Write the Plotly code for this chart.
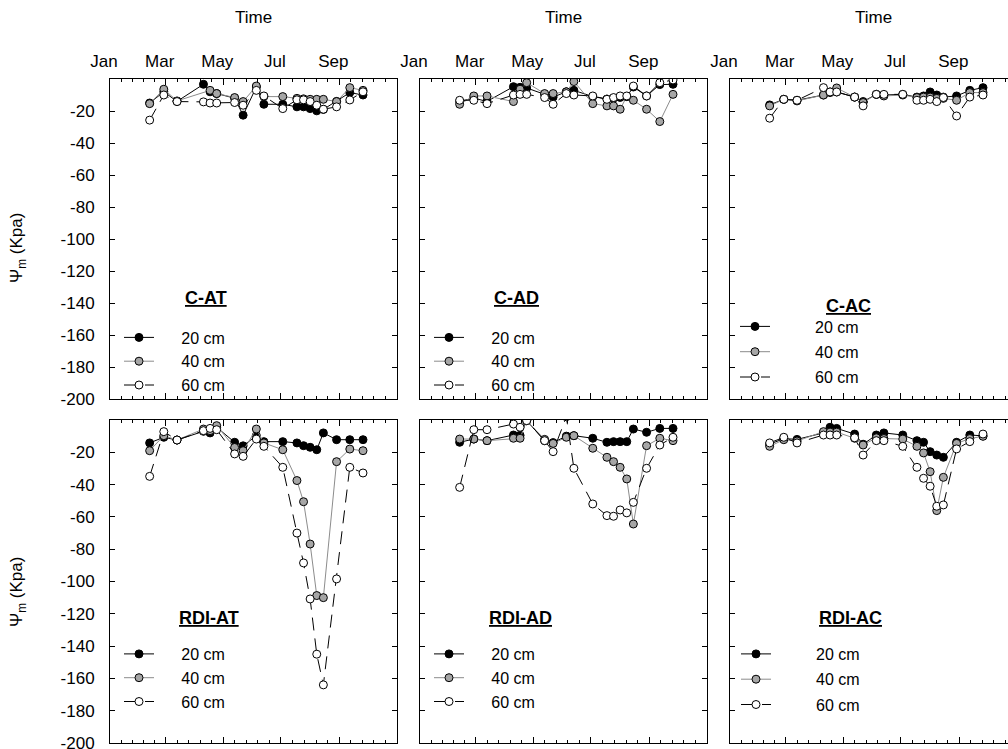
import numpy as np
import pandas as pd
import plotly.graph_objects as go

# ---------------- data ----------------
dates = ["2009-02-12", "2009-02-27", "2009-03-13", "2009-04-10", "2009-04-17",
         "2009-04-24", "2009-05-13", "2009-05-22", "2009-06-05", "2009-06-13",
         "2009-07-03", "2009-07-18", "2009-07-25", "2009-08-01", "2009-08-08",
         "2009-08-15", "2009-08-29", "2009-09-12", "2009-09-26"]

depth_labels = ["20 cm", "40 cm", "60 cm"]
panel_titles = ["C-AT", "C-AD", "C-AC", "RDI-AT", "RDI-AD", "RDI-AC"]

cat_20 = [-15, -8, -14, -3.3, -8, -9.1, -12, -22.6, -5, -15.8, -15.8, -17.4, -17.4, -18.5, -19.9, -19, -14, -8.5, -10]
cat_40 = [-15.4, -6.4, -13.7, None, -7.1, -9.1, -11.6, -14.1, -4.4, -11, -11, -12.1, -12.4, -12.7, -12.7, -12.7, -14.1, -5.4, -7.1]
cat_60 = [-25.7, -10, -14.1, -14.3, -15, -15, -14.7, -16.4, -7.1, -10.6, -18.5, -13, -13, -14.1, -16.4, -18.9, -17.4, -13.1, -8]

cad_20 = [-14, -12, -14, -4.8, -5.2, -5.6, -9.6, -11.3, -8, -7.1, -11, -12.5, -12, -11.5, -11, -5, -10.6, -3.5, -3.3]
cad_40 = [-15.8, -10.6, -10.6, -14.1, -6.4, -2.3, -9.1, -9.1, -8, -1.6, -15.4, -16.8, -16.8, -18.9, -11, -13.3, -18.9, -26.6, -9.6]
cad_60 = [-13.3, -13.3, -15.4, -10, -9.6, -9.6, -11.6, -15.8, -9.1, -10, -10.6, -12.7, -11.6, -10.6, -10.6, -4.4, -10.6, -2.3, -0.6]

cac_20 = [-16.2, -12.7, -13.3, -10, -8.1, -8.1, -11.3, -14.1, -9.6, -10, -9.6, -11.3, -10.6, -8.1, -10, -11.3, -10.6, -7.1, -5.4]
cac_40 = [-16.8, -12.7, -13.7, -10, -8.5, -5.6, -11.3, -14.7, -9.6, -10.6, -10, -11.6, -11.3, -11.3, -12.1, -12.1, -13.3, -8.5, -8.5]
cac_60 = [-24.5, -12.7, -13.3, -5.4, -8.1, -8.1, -11.3, -16.8, -9.6, -9.6, -9.6, -13.3, -13.3, -12.7, -14.1, -11.6, -23.1, -11.3, -10]

rat_20 = [-14.2, -10.7, -12.4, -7, -8, -4.5, -13.8, -16, -9.7, -13.4, -13.4, -14.2, -15.9, -16.9, -18.4, -8, -12.2, -12.2, -12.2]
rat_40 = [-19, -9.7, -12.4, -5.6, -6.6, -3.5, -17, -19, -5.6, -14.2, -18.4, -37.5, -50.6, -76.8, -108.7, -110, -25.8, -18, -19]
rat_60 = [-34.9, -7.2, -12.4, -6.6, -5.2, -6, -21, -22.5, -11.8, -16.3, -29.3, -70, -88.5, -110.8, -145, -164, -98.4, -29.3, -32.8]

rad_20 = [-13.8, -11.8, -12.8, -9.3, -9.5, -0.4, -12.8, -14, -10, -9.7, -11.3, -13.8, -13.4, -13.4, -13.4, -5.6, -7.6, -5.2, -5.2]
rad_40 = [-11.8, -11.8, -12.8, -11.3, -11.3, -0.4, -12, -14.5, -10.7, -9.7, -17.5, -23.1, -25.8, -29.3, -36.5, -64.4, -15.9, -11.3, -12.8]
rad_60 = [-41.7, -6.0, -6.0, -2.5, -4.5, -0.4, -12.8, -19.6, 2, -29.9, -52, -59.2, -59.6, -55.7, -57.5, -51, -29.9, -15.5, -10.7]

rac_20 = [-15, -11.5, -12, -8, -4.5, -5.2, -8.7, -15, -9.3, -8.0, -9.3, -12.8, -13.8, -19.6, -21.7, -23.1, -13.8, -9.3, -9.8]
rac_40 = [-16.3, -12.2, -13, -7.2, -7.5, -7.5, -11.3, -15.5, -11, -11.5, -11.8, -16.3, -20.4, -32, -56.1, -35.5, -14.5, -11.5, -10.1]
rac_60 = [-14.2, -10.7, -14.2, -9.3, -9.3, -9.3, -11, -21.7, -12.8, -12.8, -16.3, -29.3, -36.1, -41, -53.4, -52.6, -17.9, -13.4, -8.7]

month_ticks = ["2009-01-01", "2009-03-01", "2009-05-01", "2009-07-01", "2009-09-01"]
month_labels = ["Jan", "Mar", "May", "Jul", "Sep"]
axis_start, axis_end = "2009-01-01", "2009-11-01"
y_ticks = [-20, -40, -60, -80, -100, -120, -140, -160, -180, -200]
y_tick_labels = ["-20", "-40", "-60", "-80", "-100", "-120", "-140", "-160", "-180", "-200"]

panels = [
    (cat_20, cat_40, cat_60),
    (cad_20, cad_40, cad_60),
    (cac_20, cac_40, cac_60),
    (rat_20, rat_40, rat_60),
    (rad_20, rad_40, rad_60),
    (rac_20, rac_40, rac_60),
]

# ---------------- layout geometry (pixels) ----------------
W, H = 1008, 749
FONT = "Liberation Sans, Arial, sans-serif"
col_left = [110, 420, 730]
panel_w = 287
row_top = [79, 420]
row_bot = [399, 743]

# minor ticks: 4 evenly spaced between consecutive majors
majors = pd.to_datetime(month_ticks + [axis_end])
minor_ticks = []
for a, b in zip(majors[:-1], majors[1:]):
    for k in range(1, 5):
        minor_ticks.append(a + (b - a) * k / 5)
minor_ticks = [t.strftime("%Y-%m-%d %H:%M") for t in minor_ticks]

series_style = [
    dict(fill="black", line=dict(color="black", width=1)),
    dict(fill="#a6a6a6", line=dict(color="#8c8c8c", width=1)),
    dict(fill="white", line=dict(color="black", width=1, dash="13px,8px")),
]

fig = go.Figure()
layout = {}
start = pd.Timestamp(axis_start)
end = pd.Timestamp(axis_end)

# legend boxes (left, top) in px, spacing between text and sample line, row gap
legend_pos = [(119, 320.5), (429, 320.5), (735, 309.5), (119, 637), (429, 637), (736, 637)]
legend_pad = [5, 5, 9, 5, 5, 9]
legend_gap = [0, 0, 1.5, 0, 0, 1.5]
title_pos = [(206, 298), (516, 298), (848, 306), (209, 618), (520, 618), (850, 618)]

for i, vals in enumerate(panels):
    r, c = divmod(i, 3)
    n = i + 1
    xa = "x" if n == 1 else f"x{n}"
    ya = "y" if n == 1 else f"y{n}"
    lg = "legend" if n == 1 else f"legend{n}"
    x0 = col_left[c]
    x1 = min(x0 + panel_w, W)
    frac = (x1 - x0) / panel_w
    rng_end = start + (end - start) * frac
    for j, v in enumerate(vals):
        st = series_style[j]
        fig.add_trace(go.Scatter(
            x=dates, y=v, mode="lines+markers",
            name="\u00a0" * legend_pad[i] + depth_labels[j],
            legendgroup=f"p{n}s{j}",
            xaxis=xa, yaxis=ya, legend=lg, connectgaps=True,
            line=st["line"],
            marker=dict(size=8, color=st["fill"], line=dict(color="black", width=1)),
            showlegend=True, cliponaxis=True,
        ))
    layout["xaxis" if n == 1 else f"xaxis{n}"] = dict(
        type="date", domain=[x0 / W, x1 / W], anchor=ya, automargin=False,
        range=[axis_start, rng_end.strftime("%Y-%m-%d %H:%M")],
        tickmode="array", tickvals=month_ticks, ticktext=month_labels,
        ticks="inside", ticklen=6, tickcolor="black", tickwidth=1,
        minor=dict(tickmode="array", tickvals=minor_ticks, ticks="inside", ticklen=3,
                   tickcolor="black", showgrid=False),
        showline=True, linecolor="black", linewidth=1, mirror="allticks",
        side="top", showgrid=False, zeroline=False,
        showticklabels=(r == 0), ticklabelshift=-6, ticklabelstandoff=4,
        ticklabeloverflow="allow",
        tickfont=dict(size=17, color="black", family=FONT),
    )
    layout["yaxis" if n == 1 else f"yaxis{n}"] = dict(
        domain=[1 - row_bot[r] / H, 1 - row_top[r] / H], anchor=xa, automargin=False,
        range=[-200, 0], tickmode="array", tickvals=y_ticks, ticktext=y_tick_labels,
        ticks="inside", ticklen=5, tickcolor="black",
        showline=True, linecolor="black", linewidth=1,
        mirror="allticks" if c < 2 else False,
        showgrid=False, zeroline=False,
        showticklabels=(c == 0), ticklabelstandoff=11,
        ticklabeloverflow="allow",
        tickfont=dict(size=17, color="black", family=FONT),
    )
    lx, ly = legend_pos[i]
    layout[lg] = dict(
        x=lx / W, y=1 - ly / H, xanchor="left", yanchor="top",
        bgcolor="rgba(0,0,0,0)", borderwidth=0, itemwidth=30,
        font=dict(size=16, color="black", family=FONT),
        tracegroupgap=legend_gap[i], itemclick=False, itemdoubleclick=False,
    )

annotations = []
for c in range(3):
    annotations.append(dict(
        text="Time", x=(col_left[c] + panel_w / 2) / W, y=1 - 17 / H,
        xref="paper", yref="paper", showarrow=False,
        font=dict(size=17, color="black", family=FONT),
        xanchor="center", yanchor="middle"))
for r, yc in enumerate([248, 592]):
    annotations.append(dict(
        text="Ψ<sub>m</sub> (Kpa)", x=18 / W, y=1 - yc / H,
        xref="paper", yref="paper", showarrow=False, textangle=-90,
        font=dict(size=17, color="black", family=FONT),
        xanchor="center", yanchor="middle"))
for i, t in enumerate(panel_titles):
    tx, ty = title_pos[i]
    annotations.append(dict(
        text=f"<b><u>{t}</u></b>", x=tx / W, y=1 - ty / H,
        xref="paper", yref="paper", showarrow=False,
        font=dict(size=18, color="black", family=FONT),
        xanchor="center", yanchor="middle"))

fig.update_layout(
    width=W, height=H, margin=dict(l=0, r=0, t=0, b=0, autoexpand=False),
    paper_bgcolor="white", plot_bgcolor="white",
    font=dict(family=FONT, size=16, color="black"),
    annotations=annotations,
    **layout,
)

fig.write_html("out.html")
